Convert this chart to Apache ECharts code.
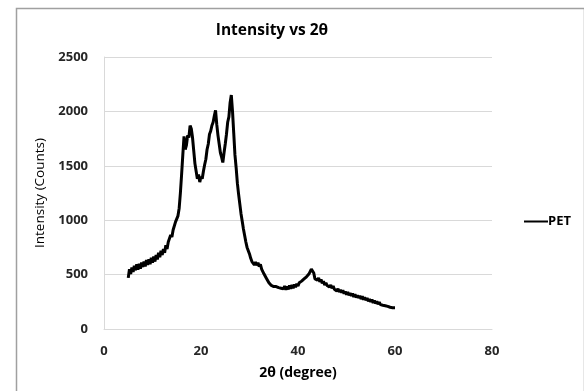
<!DOCTYPE html>
<html>
<head>
<meta charset="utf-8">
<script src="https://cdn.jsdelivr.net/npm/echarts@6/dist/echarts.min.js"></script>
<style>html,body{margin:0;padding:0;background:#fff;}#c{width:584px;height:391px;}</style>
</head>
<body>
<div id="c"></div>
<script>
var chartTitle = 'Intensity vs 2θ';
var seriesName = 'PET';
var xTicks = [0, 20, 40, 60, 80];
var yTicks = [0, 500, 1000, 1500, 2000, 2500];
var twoTheta = [
5,5.25,5.5,5.75,6,6.25,6.5,6.75,7,7.25,7.5,7.75,8,8.25,8.5,8.75,9,9.25,9.5,9.75,
10,10.25,10.5,10.75,11,11.25,11.5,11.75,12,12.25,12.5,12.75,13,13.25,13.5,13.75,14,14.25,14.5,14.75,
15,15.25,15.5,15.75,16,16.25,16.5,16.75,17,17.25,17.5,17.75,18,18.25,18.5,18.75,19,19.25,19.5,19.75,
20,20.25,20.5,20.75,21,21.25,21.5,21.75,22,22.25,22.5,22.75,23,23.25,23.5,23.75,24,24.25,24.5,24.75,
25,25.25,25.5,25.75,26,26.25,26.5,26.75,27,27.25,27.5,27.75,28,28.25,28.5,28.75,29,29.25,29.5,29.75,
30,30.25,30.5,30.75,31,31.25,31.5,31.75,32,32.25,32.5,32.75,33,33.25,33.5,33.75,34,34.25,34.5,34.75,
35,35.25,35.5,35.75,36,36.25,36.5,36.75,37,37.25,37.5,37.75,38,38.25,38.5,38.75,39,39.25,39.5,39.75,
40,40.25,40.5,40.75,41,41.25,41.5,41.75,42,42.25,42.5,42.75,43,43.25,43.5,43.75,44,44.25,44.5,44.75,
45,45.25,45.5,45.75,46,46.25,46.5,46.75,47,47.25,47.5,47.75,48,48.25,48.5,48.75,49,49.25,49.5,49.75,
50,50.25,50.5,50.75,51,51.25,51.5,51.75,52,52.25,52.5,52.75,53,53.25,53.5,53.75,54,54.25,54.5,54.75,
55,55.25,55.5,55.75,56,56.25,56.5,56.75,57,57.25,57.5,57.75,58,58.25,58.5,58.75,59,59.25,59.5,59.75,
60
];
var petIntensity = [
470,550,505,565,525,580,540,595,545,600,555,610,570,620,575,635,590,640,595,655,
610,665,620,680,640,700,660,720,680,735,700,770,735,800,795,865,845,910,915,985,
980,1040,1110,1250,1420,1600,1770,1650,1690,1780,1760,1870,1840,1760,1640,1520,1450,1380,1420,1350,
1400,1380,1450,1510,1560,1650,1700,1790,1820,1870,1900,1960,2010,1880,1780,1700,1620,1580,1530,1620,
1700,1790,1900,1950,2080,2150,2000,1800,1600,1480,1340,1240,1150,1060,990,920,860,800,750,720,
690,650,620,610,590,615,585,610,575,595,550,545,505,500,465,455,425,430,400,405,
390,395,390,375,380,370,375,365,370,395,360,390,365,400,370,405,375,410,385,415,
395,425,410,440,425,460,445,480,475,505,515,550,545,515,460,475,450,470,435,455,
420,440,405,425,400,415,385,405,375,395,365,380,350,370,340,360,335,355,325,345,
315,340,310,330,305,325,295,320,290,310,285,305,275,300,270,290,265,285,255,275,
250,270,240,260,235,255,228,248,224,242,218,235,214,230,208,224,200,218,196,212,
196
];

var points = twoTheta.map(function (x, i) { return [x, petIntensity[i]]; });
var font = '"Open Sans", "Noto Sans", sans-serif';
var chart = echarts.init(document.getElementById('c'), null, {renderer: 'canvas'});
chart.setOption({
  animation: false,
  backgroundColor: '#fff',
  title: {
    text: chartTitle, left: 267, top: 18, textAlign: 'center',
    textStyle: {fontFamily: font, fontSize: 15.5, fontWeight: 'bold', color: '#000'}
  },
  legend: {
    left: 519, top: 210, icon: 'rect', itemWidth: 24, itemHeight: 2, itemGap: 2,
    data: [seriesName],
    textStyle: {fontFamily: font, fontSize: 13, fontWeight: 'bold', color: '#000', padding: [0, 0, 0, -5]}
  },
  graphic: [{
    type: 'rect', left: 14, top: 6, silent: true,
    shape: {width: 568, height: 400},
    style: {fill: 'none', stroke: '#a0a0a0', lineWidth: 1.5}
  }],
  grid: {left: 104, right: 92, top: 57, bottom: 62, containLabel: false},
  xAxis: {
    type: 'value', min: xTicks[0], max: xTicks[xTicks.length - 1], interval: 20,
    name: '2θ (degree)', nameLocation: 'middle', nameGap: 37,
    nameTextStyle: {fontFamily: font, fontSize: 14, fontWeight: 'bold', color: '#000'},
    axisLine: {show: true, lineStyle: {color: '#d9d9d9', width: 1}},
    axisTick: {show: false},
    splitLine: {show: false},
    axisLabel: {fontFamily: font, fontSize: 13, fontWeight: 'bold', color: '#262626', margin: 16}
  },
  yAxis: {
    type: 'value', min: yTicks[0], max: yTicks[yTicks.length - 1], interval: 500,
    name: 'Intensity (Counts)', nameLocation: 'middle', nameGap: 57, nameRotate: 90,
    nameTextStyle: {fontFamily: font, fontSize: 13.5, fontWeight: 500, color: '#000'},
    axisLine: {show: true, lineStyle: {color: '#d9d9d9', width: 1}},
    axisTick: {show: false},
    splitLine: {show: true, lineStyle: {color: '#d9d9d9', width: 1}},
    axisLabel: {fontFamily: font, fontSize: 13, fontWeight: 'bold', color: '#262626', margin: 16,
      formatter: function (v) { return String(v); }}
  },
  series: [{
    name: seriesName, type: 'line', data: points, showSymbol: false, symbol: 'none',
    lineStyle: {color: '#000', width: 3}, itemStyle: {color: '#000'}
  }]
});
</script>
</body>
</html>
